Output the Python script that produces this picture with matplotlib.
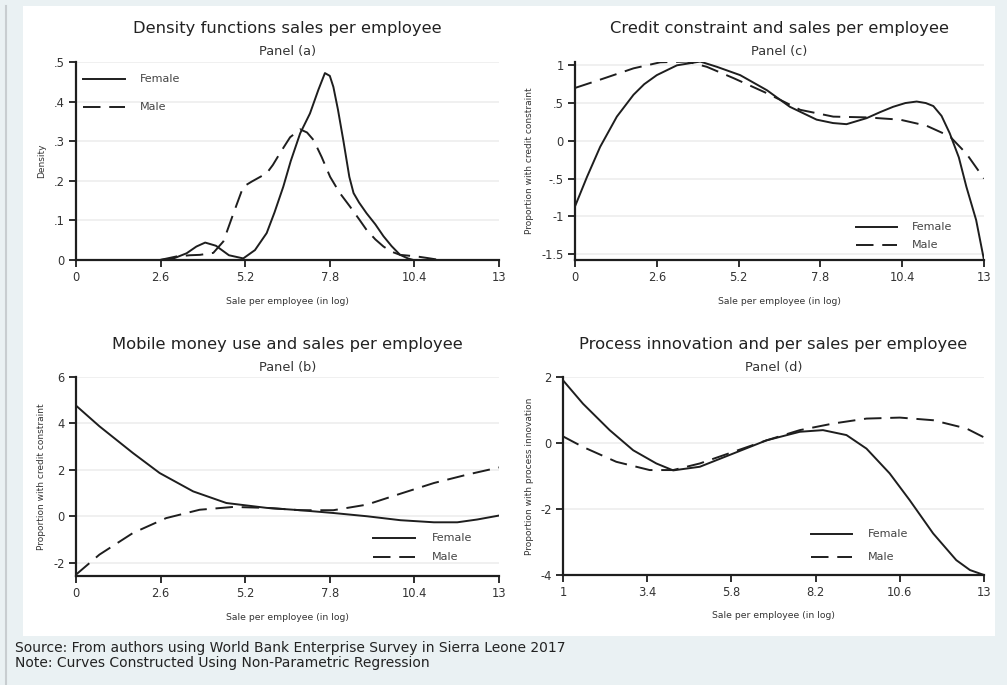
import matplotlib.pyplot as plt
from matplotlib.patches import Rectangle
from matplotlib.lines import Line2D

plt.rcParams['font.family'] = ['DejaVu Sans']

W, H = 1007, 685
INK = '#1e1e1e'
DASH = (9, 4.5)

# Panel (a): kernel densities of log sales per employee
dens_f_x = [2.58, 3.0, 3.4, 3.7, 3.97, 4.3, 4.7, 5.14, 5.5, 5.86, 6.1, 6.37, 6.6, 6.89,
            7.19, 7.45, 7.65, 7.8, 7.91, 8.05, 8.22, 8.4, 8.53, 8.7, 8.93, 9.2, 9.45,
            9.7, 9.96, 10.2, 10.37]
dens_f_y = [0.0, 0.004, 0.017, 0.034, 0.044, 0.036, 0.012, 0.004, 0.025, 0.068, 0.12,
            0.185, 0.25, 0.32, 0.37, 0.43, 0.472, 0.465, 0.437, 0.38, 0.30, 0.21, 0.169,
            0.145, 0.118, 0.09, 0.06, 0.035, 0.013, 0.004, 0.0]
dens_m_x = [2.58, 3.09, 3.5, 3.81, 4.22, 4.53, 4.84, 5.14, 5.4, 5.86, 6.05, 6.27, 6.58,
            6.89, 7.1, 7.30, 7.55, 7.81, 8.1, 8.42, 8.7, 8.93, 9.2, 9.45, 9.7, 9.96,
            10.47, 10.8, 11.19]
dens_m_y = [0.0, 0.009, 0.012, 0.013, 0.018, 0.047, 0.118, 0.185, 0.198, 0.219, 0.24,
            0.27, 0.31, 0.33, 0.322, 0.303, 0.26, 0.21, 0.17, 0.135, 0.103, 0.076, 0.052,
            0.034, 0.021, 0.013, 0.009, 0.005, 0.0]

# Panel (c): credit constraint
cred_f_x = [0.0, 0.38, 0.8, 1.33, 1.86, 2.2, 2.6, 3.24, 3.98, 4.51, 5.25, 6.10, 6.83,
            7.68, 8.2, 8.63, 9.27, 9.7, 10.11, 10.5, 10.86, 11.15, 11.39, 11.65, 11.91,
            12.2, 12.44, 12.75, 13.0]
cred_f_y = [-0.87, -0.48, -0.08, 0.32, 0.61, 0.75, 0.87, 1.0, 1.05, 0.98, 0.87, 0.67,
            0.45, 0.28, 0.235, 0.22, 0.30, 0.38, 0.45, 0.50, 0.52, 0.50, 0.46, 0.33,
            0.10, -0.22, -0.61, -1.05, -1.58]
cred_m_x = [0.0, 0.8, 1.86, 2.71, 3.56, 4.19, 5.04, 6.10, 7.16, 8.21, 9.27, 10.33,
            11.17, 11.91, 12.44, 13.0]
cred_m_y = [0.70, 0.81, 0.96, 1.04, 1.05, 0.98, 0.83, 0.63, 0.41, 0.32, 0.31, 0.28,
            0.20, 0.06, -0.17, -0.50]

# Panel (b): mobile money use
mob_f_x = [0.0, 0.72, 1.75, 2.57, 3.60, 4.62, 5.86, 6.89, 7.91, 8.94, 9.97, 11.0,
           11.72, 12.33, 13.0]
mob_f_y = [4.77, 3.88, 2.73, 1.87, 1.08, 0.58, 0.37, 0.27, 0.15, 0.01, -0.16, -0.25,
           -0.25, -0.13, 0.04]
mob_m_x = [0.0, 0.72, 1.75, 2.77, 3.80, 4.83, 5.86, 6.89, 7.91, 8.94, 9.97, 11.0,
           12.02, 13.0]
mob_m_y = [-2.5, -1.64, -0.71, -0.07, 0.29, 0.41, 0.37, 0.27, 0.27, 0.51, 0.98, 1.44,
           1.80, 2.11]

# Panel (d): process innovation
inno_f_x = [1.0, 1.57, 2.33, 3.0, 3.66, 4.14, 4.90, 5.85, 6.80, 7.75, 8.41, 9.08,
            9.65, 10.31, 10.88, 11.55, 12.21, 12.6, 13.0]
inno_f_y = [1.90, 1.19, 0.39, -0.22, -0.62, -0.83, -0.72, -0.32, 0.08, 0.34, 0.39,
            0.24, -0.17, -0.92, -1.73, -2.74, -3.55, -3.85, -4.0]
inno_m_x = [1.0, 1.57, 2.52, 3.47, 4.14, 4.90, 5.85, 6.80, 7.75, 8.70, 9.65, 10.60,
            11.55, 12.50, 13.0]
inno_m_y = [0.20, -0.12, -0.57, -0.82, -0.82, -0.62, -0.27, 0.08, 0.39, 0.59, 0.74,
            0.77, 0.69, 0.44, 0.17]

fig = plt.figure(figsize=(W / 100, H / 100), dpi=100)
fig.patch.set_facecolor('#eaf1f3')
fig.add_artist(Rectangle((23 / W, 1 - 636 / H), (995 - 23) / W, (636 - 6) / H,
                         transform=fig.transFigure, facecolor='white',
                         edgecolor='none', zorder=0))
fig.add_artist(Line2D([6 / W, 6 / W], [0, 1 - 6 / H], transform=fig.transFigure,
                      color='#c8cdd0', lw=1.5))


def fx(x):
    return x / W


def fy(y):
    return 1 - y / H


def legend_rows(x0, x1, xt, rows):
    # rows: (y pixel, label, dashed?)
    for y, label, dashed in rows:
        ln = Line2D([fx(x0), fx(x1)], [fy(y), fy(y)], transform=fig.transFigure,
                    color=INK, lw=1.4)
        if dashed:
            ln.set_dashes(DASH)
        fig.add_artist(ln)
        fig.text(fx(xt), fy(y), label, ha='left', va='center', fontsize=8,
                 color='#444444')


def panel(box, xlim, ylim, xticks, yticks, yticklabels, title, sub, ylabel,
          fem, mal, title_y, ylab_x):
    l, t, r, b = box
    ax = fig.add_axes([fx(l), fy(b), (r - l) / W, (b - t) / H])
    ax.set_facecolor('none')
    ax.set_xlim(*xlim)
    ax.set_ylim(*ylim)
    for yv in yticks:
        ax.axhline(yv, color='#ececec', lw=1.1, zorder=0)
    ax.plot(*fem, color=INK, lw=1.4, solid_joinstyle='round', zorder=3)
    ax.plot(*mal, color=INK, lw=1.4, dashes=DASH, zorder=3)
    ax.set_xticks(xticks)
    ax.set_xticklabels([('%g' % v) for v in xticks])
    ax.set_yticks(yticks)
    ax.set_yticklabels(yticklabels)
    for s in ('top', 'right'):
        ax.spines[s].set_visible(False)
    for s in ('left', 'bottom'):
        ax.spines[s].set_linewidth(1.6)
        ax.spines[s].set_color(INK)
    ax.tick_params(direction='out', length=5, width=1.3, color=INK,
                   labelsize=8.3, labelcolor='#333333', pad=3)
    ax.margins(0)
    cx = (l + r) / 2
    fig.text(fx(cx), fy(title_y), title, ha='center', va='center', fontsize=11.8,
             color='#222222')
    fig.text(fx(cx), fy(title_y + 24), sub, ha='center', va='center', fontsize=9.3,
             color='#333333')
    fig.text(fx(cx), fy(b + 41), 'Sale per employee (in log)', ha='center',
             va='center', fontsize=6.7, color='#333333')
    fig.text(fx(ylab_x), fy((t + b) / 2), ylabel, ha='center', va='center',
             rotation=90, fontsize=6.5, color='#333333')
    return ax


panel((76, 62, 499, 260), (0, 13), (0, 0.5),
      [0, 2.6, 5.2, 7.8, 10.4, 13], [0, 0.1, 0.2, 0.3, 0.4, 0.5],
      ['0', '.1', '.2', '.3', '.4', '.5'],
      'Density functions sales per employee', 'Panel (a)', 'Density',
      (dens_f_x, dens_f_y), (dens_m_x, dens_m_y), 28, 42)
legend_rows(83, 125, 140, [(79, 'Female', False), (107, 'Male', True)])

panel((575, 62, 984, 260), (0, 13), (-1.58, 1.044),
      [0, 2.6, 5.2, 7.8, 10.4, 13], [-1.5, -1, -0.5, 0, 0.5, 1],
      ['-1.5', '-1', '-.5', '0', '.5', '1'],
      'Credit constraint and sales per employee', 'Panel (c)',
      'Proportion with credit constraint',
      (cred_f_x, cred_f_y), (cred_m_x, cred_m_y), 28, 529)
legend_rows(856, 897, 912, [(227, 'Female', False), (245, 'Male', True)])

panel((76, 377, 499, 576), (0, 13), (-2.56, 6),
      [0, 2.6, 5.2, 7.8, 10.4, 13], [-2, 0, 2, 4, 6],
      ['-2', '0', '2', '4', '6'],
      'Mobile money use and sales per employee', 'Panel (b)',
      'Proportion with credit constraint',
      (mob_f_x, mob_f_y), (mob_m_x, mob_m_y), 344, 42)
legend_rows(373, 415, 432, [(538, 'Female', False), (557, 'Male', True)])

panel((563, 377, 984, 575), (1, 13), (-4, 2),
      [1, 3.4, 5.8, 8.2, 10.6, 13], [-4, -2, 0, 2],
      ['-4', '-2', '0', '2'],
      'Process innovation and per sales per employee', 'Panel (d)',
      'Proportion with process innovation',
      (inno_f_x, inno_f_y), (inno_m_x, inno_m_y), 344, 529)
legend_rows(811, 852, 868, [(534, 'Female', False), (557, 'Male', True)])

fig.text(fx(15), fy(648), 'Source: From authors using World Bank Enterprise Survey in Sierra Leone 2017',
         ha='left', va='center', fontsize=10, color='#222222')
fig.text(fx(15), fy(663), 'Note: Curves Constructed Using Non-Parametric Regression',
         ha='left', va='center', fontsize=10, color='#222222')

fig.savefig('out.png', dpi=100, facecolor=fig.get_facecolor())
